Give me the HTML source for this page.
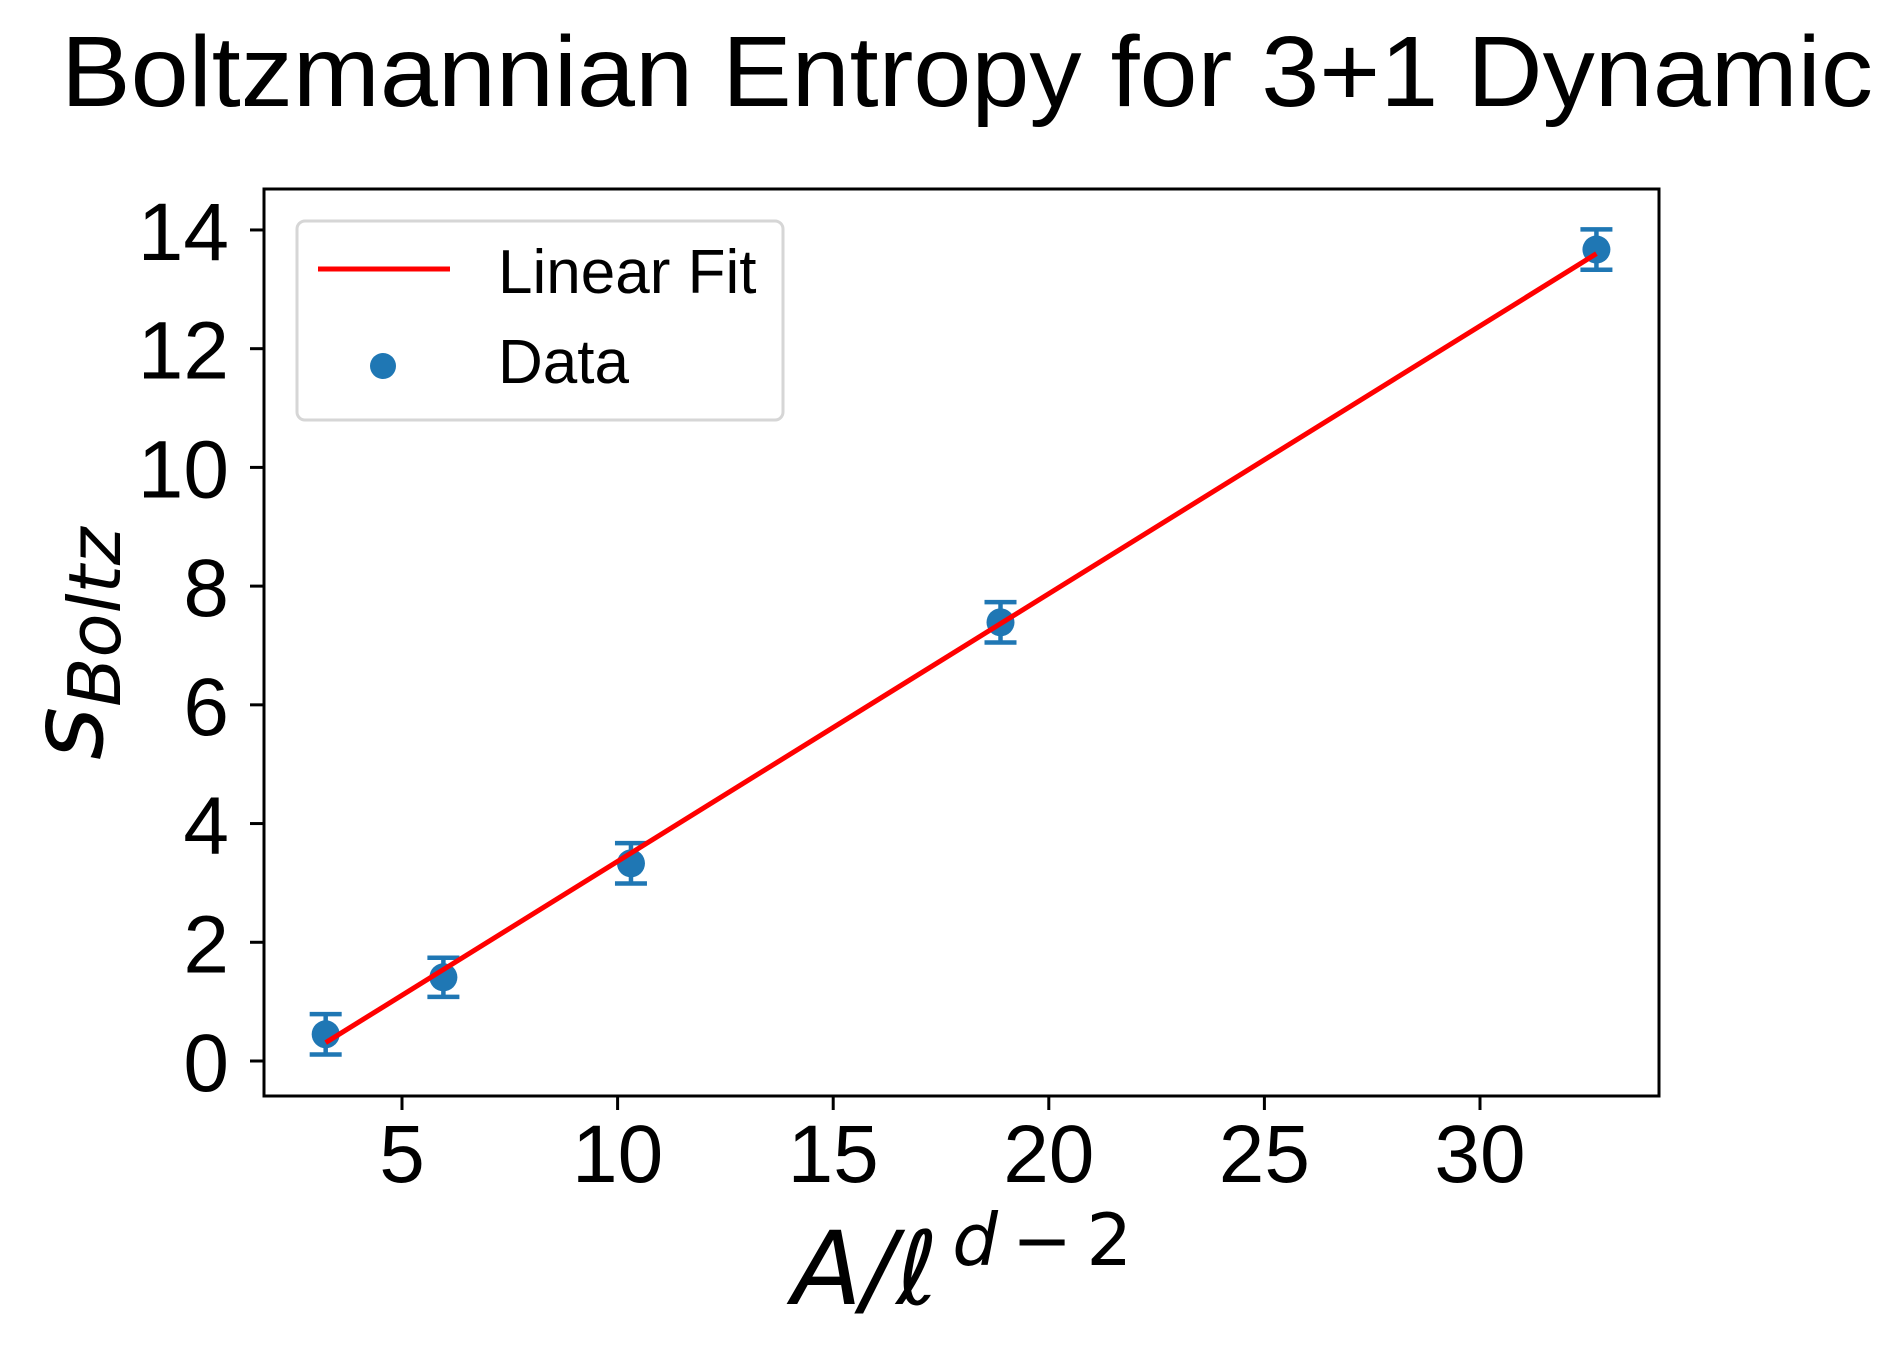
<!DOCTYPE html>
<html><head><meta charset="utf-8"><style>
html,body{margin:0;padding:0;background:#fff;}
svg{display:block;}
text{font-family:"Liberation Sans",Arial,sans-serif;fill:#000;}
.math{font-family:"DejaVu Sans",sans-serif;font-style:oblique;}
</style></head><body>
<svg id="chart" width="1895" height="1356" viewBox="0 0 1895 1356" xmlns="http://www.w3.org/2000/svg">
<rect width="1895" height="1356" fill="#fff"/>
<text x="61" y="106" font-size="100" textLength="1812" lengthAdjust="spacingAndGlyphs">Boltzmannian Entropy for 3+1 Dynamic</text>
<g id="plot"></g>
<text class="math" x="792" y="1304" font-size="102">A/ℓ<tspan font-size="72" dx="14" dy="-39" font-style="oblique">d</tspan><tspan font-size="72" dx="14" font-style="normal">−</tspan><tspan font-size="72" dx="14" font-style="normal">2</tspan></text>
<text class="math" transform="translate(102,760) rotate(-90)" font-size="102">s<tspan font-size="72" dy="18">Boltz</tspan></text>
<g>
<rect x="297" y="221" width="486" height="199" rx="8" fill="#fff" fill-opacity="0.8" stroke="#d6d6d6" stroke-width="3"/>
<line x1="318" y1="269" x2="450" y2="269" stroke="#ff0000" stroke-width="5"/>
<text x="498" y="293" font-size="62">Linear Fit</text>
<circle cx="383" cy="366" r="13" fill="#1f77b4"/>
<text x="498" y="383" font-size="62">Data</text>
</g>
</svg>
<script>
const xData = [3.23, 5.96, 10.31, 18.88, 32.7];
const yData = [0.45, 1.41, 3.33, 7.39, 13.67];
const yErr = [0.34, 0.33, 0.34, 0.34, 0.34];
const fitSlope = 0.451;
const fitIntercept = -1.147;
const xTicks = [5, 10, 15, 20, 25, 30];
const yTicks = [0, 2, 4, 6, 8, 10, 12, 14];

const L = 264, R = 1659, T = 189, B = 1096;
const sx = v => 402 + (v - 5) * 43.12;
const sy = v => 1061 - v * 59.36;
const NS = "http://www.w3.org/2000/svg";
const g = document.getElementById('plot');
function mk(tag, attrs){const e=document.createElementNS(NS,tag);for(const k in attrs)e.setAttribute(k,attrs[k]);g.appendChild(e);return e;}

xTicks.forEach(t=>{
  const l=mk('line',{x1:sx(t),x2:sx(t),y1:B,y2:B+14,stroke:'#000','stroke-width':3});
  
  
  const tx=mk('text',{x:sx(t),y:1182,'font-size':82,'text-anchor':'middle'});
  tx.textContent=t;
  
  
});
yTicks.forEach(t=>{
  const l=mk('line',{x1:L-14,x2:L,y1:sy(t),y2:sy(t),stroke:'#000','stroke-width':3});
  
  
  const tx=mk('text',{x:229,y:sy(t)+30,'font-size':82,'text-anchor':'end'});
  tx.textContent=t;
  
  
});

xData.forEach((x,i)=>{
  const cx=sx(x), y=yData[i];
  const eb=mk('path',{d:`M${cx},${sy(y-yErr[i])}V${sy(y+yErr[i])}M${cx-16},${sy(y-yErr[i])}H${cx+16}M${cx-16},${sy(y+yErr[i])}H${cx+16}`,stroke:'#1f77b4','stroke-width':4.5,fill:'none'});
  
  
  const c=mk('circle',{cx:cx,cy:sy(y),r:14,fill:'#1f77b4'});
  
  
});

const x0=xData[0], x1=xData[xData.length-1];
const fl=mk('line',{x1:sx(x0),y1:sy(fitSlope*x0+fitIntercept),x2:sx(x1),y2:sy(fitSlope*x1+fitIntercept),stroke:'#ff0000','stroke-width':5});



const fr=mk('rect',{x:L,y:T,width:R-L,height:B-T,fill:'none',stroke:'#000','stroke-width':3});


</script>
</body></html>
